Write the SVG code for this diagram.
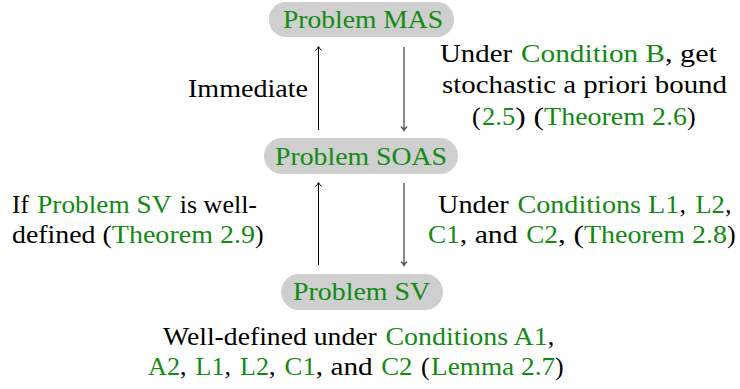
<svg xmlns="http://www.w3.org/2000/svg" width="740" height="389" viewBox="0 0 740 389">
<rect width="740" height="389" fill="#fff"/>
<g id="MAS">
<rect fill="#cfcfcf" x="269" y="2" width="185" height="35" rx="17"/>
<text font-family="Liberation Serif" font-size="26" fill="#138a13" x="283" y="28" textLength="160" lengthAdjust="spacingAndGlyphs">Problem MAS</text>
</g>
<g id="SOAS">
<rect fill="#cfcfcf" x="264" y="138" width="194" height="36" rx="18"/>
<text font-family="Liberation Serif" font-size="26" fill="#138a13" x="275" y="165" textLength="172" lengthAdjust="spacingAndGlyphs">Problem SOAS</text>
</g>
<g id="SV">
<rect fill="#cfcfcf" x="281" y="274" width="162" height="36" rx="18"/>
<text font-family="Liberation Serif" font-size="26" fill="#138a13" x="293" y="300" textLength="137" lengthAdjust="spacingAndGlyphs">Problem SV</text>
</g>
<g id="connectors" fill="none">
<path stroke="#000" stroke-width="1" d="M318.5,130 V47 M315.5,50.5 Q317.5,48.5 318.5,46.5 Q319.5,48.5 321.5,50.5"/>
<path stroke="#555" stroke-width="1.4" d="M404,47 V130 M401,126.5 Q403,128.5 404,130.5 Q405,128.5 407,126.5"/>
<path stroke="#000" stroke-width="1" d="M318.5,265 V183 M315.5,186.5 Q317.5,184.5 318.5,182.5 Q319.5,184.5 321.5,186.5"/>
<path stroke="#555" stroke-width="1.4" d="M404,183 V265 M401,261.5 Q403,263.5 404,265.5 Q405,263.5 407,261.5"/>
</g>
<g id="labels">
<text font-family="Liberation Serif" font-size="26" x="188" y="97" textLength="120" lengthAdjust="spacingAndGlyphs">Immediate</text>

<text font-family="Liberation Serif" font-size="26" x="440" y="62" textLength="72.2" lengthAdjust="spacingAndGlyphs">Under</text>
<text font-family="Liberation Serif" font-size="26" fill="#138a13" x="521.1" y="62" textLength="143.9" lengthAdjust="spacingAndGlyphs">Condition B</text>
<text font-family="Liberation Serif" font-size="26" x="665" y="62" textLength="52" lengthAdjust="spacingAndGlyphs">, get</text>

<text font-family="Liberation Serif" font-size="26" x="442" y="93" textLength="285" lengthAdjust="spacingAndGlyphs">stochastic a priori bound</text>

<text font-family="Liberation Serif" font-size="26" x="472" y="125">(</text>
<text font-family="Liberation Serif" font-size="26" fill="#138a13" x="482.1" y="125" textLength="33.2" lengthAdjust="spacingAndGlyphs">2.5</text>
<text font-family="Liberation Serif" font-size="26" x="515.3" y="125" textLength="28.8" lengthAdjust="spacingAndGlyphs">) (</text>
<text font-family="Liberation Serif" font-size="26" fill="#138a13" x="544.1" y="125" textLength="142.8" lengthAdjust="spacingAndGlyphs">Theorem 2.6</text>
<text font-family="Liberation Serif" font-size="26" x="686.9" y="125">)</text>

<text font-family="Liberation Serif" font-size="26" x="12" y="213" textLength="16.8" lengthAdjust="spacingAndGlyphs">If</text>
<text font-family="Liberation Serif" font-size="26" fill="#138a13" x="37.2" y="213" textLength="134.2" lengthAdjust="spacingAndGlyphs">Problem SV</text>
<text font-family="Liberation Serif" font-size="26" x="179.8" y="213" textLength="77.2" lengthAdjust="spacingAndGlyphs">is well-</text>

<text font-family="Liberation Serif" font-size="26" x="12" y="243" textLength="99.8" lengthAdjust="spacingAndGlyphs">defined (</text>
<text font-family="Liberation Serif" font-size="26" fill="#138a13" x="111.8" y="243" textLength="143.2" lengthAdjust="spacingAndGlyphs">Theorem 2.9</text>
<text font-family="Liberation Serif" font-size="26" x="255" y="243">)</text>

<text font-family="Liberation Serif" font-size="26" x="438" y="213" textLength="70.6" lengthAdjust="spacingAndGlyphs">Under</text>
<text font-family="Liberation Serif" font-size="26" fill="#138a13" x="517.4" y="213" textLength="162" lengthAdjust="spacingAndGlyphs">Conditions L1</text>
<text font-family="Liberation Serif" font-size="26" x="679.4" y="213">,</text>
<text font-family="Liberation Serif" font-size="26" fill="#138a13" x="695.4" y="213" textLength="29.5" lengthAdjust="spacingAndGlyphs">L2</text>
<text font-family="Liberation Serif" font-size="26" x="724.9" y="213">,</text>

<text font-family="Liberation Serif" font-size="26" fill="#138a13" x="428" y="243" textLength="31.8" lengthAdjust="spacingAndGlyphs">C1</text>
<text font-family="Liberation Serif" font-size="26" x="459.8" y="243" textLength="57.8" lengthAdjust="spacingAndGlyphs">, and</text>
<text font-family="Liberation Serif" font-size="26" fill="#138a13" x="526.2" y="243" textLength="31.8" lengthAdjust="spacingAndGlyphs">C2</text>
<text font-family="Liberation Serif" font-size="26" x="558" y="243" textLength="26" lengthAdjust="spacingAndGlyphs">, (</text>
<text font-family="Liberation Serif" font-size="26" fill="#138a13" x="584" y="243" textLength="143" lengthAdjust="spacingAndGlyphs">Theorem 2.8</text>
<text font-family="Liberation Serif" font-size="26" x="727" y="243">)</text>

<text font-family="Liberation Serif" font-size="26" x="163" y="345" textLength="213.8" lengthAdjust="spacingAndGlyphs">Well-defined under</text>
<text font-family="Liberation Serif" font-size="26" fill="#138a13" x="385.4" y="345" textLength="162.4" lengthAdjust="spacingAndGlyphs">Conditions A1</text>
<text font-family="Liberation Serif" font-size="26" x="547.8" y="345">,</text>

<text font-family="Liberation Serif" font-size="26" fill="#138a13" x="148" y="375" textLength="32" lengthAdjust="spacingAndGlyphs">A2</text>
<text font-family="Liberation Serif" font-size="26" x="180" y="375">,</text>
<text font-family="Liberation Serif" font-size="26" fill="#138a13" x="195.6" y="375" textLength="28.8" lengthAdjust="spacingAndGlyphs">L1</text>
<text font-family="Liberation Serif" font-size="26" x="224.4" y="375">,</text>
<text font-family="Liberation Serif" font-size="26" fill="#138a13" x="240.1" y="375" textLength="28.8" lengthAdjust="spacingAndGlyphs">L2</text>
<text font-family="Liberation Serif" font-size="26" x="268.9" y="375">,</text>
<text font-family="Liberation Serif" font-size="26" fill="#138a13" x="284.5" y="375" textLength="31.3" lengthAdjust="spacingAndGlyphs">C1</text>
<text font-family="Liberation Serif" font-size="26" x="315.8" y="375" textLength="56.9" lengthAdjust="spacingAndGlyphs">, and</text>
<text font-family="Liberation Serif" font-size="26" fill="#138a13" x="381.2" y="375" textLength="31.3" lengthAdjust="spacingAndGlyphs">C2</text>
<text font-family="Liberation Serif" font-size="26" x="421" y="375">(</text>
<text font-family="Liberation Serif" font-size="26" fill="#138a13" x="431" y="375" textLength="124.1" lengthAdjust="spacingAndGlyphs">Lemma 2.7</text>
<text font-family="Liberation Serif" font-size="26" x="555.1" y="375">)</text>
</g>
</svg>
